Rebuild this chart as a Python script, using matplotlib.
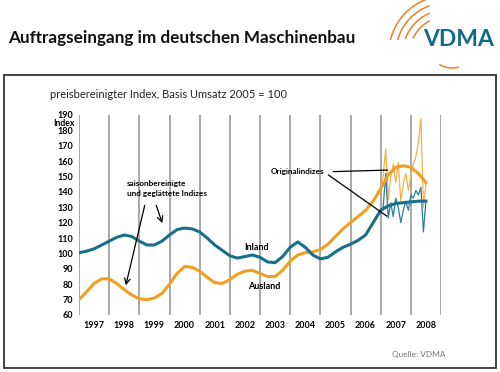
import matplotlib
matplotlib.use('Agg')
import matplotlib.pyplot as plt
from matplotlib.patches import Rectangle
import numpy as np

plt.rcParams['font.family'] = ['Lato', 'DejaVu Sans']

# smoothed (seasonally adjusted) indices, quarterly
smooth_years = [1997.0, 1997.25, 1997.5, 1997.75, 1998.0, 1998.25, 1998.5, 1998.75,
                1999.0, 1999.25, 1999.5, 1999.75, 2000.0, 2000.25, 2000.5, 2000.75,
                2001.0, 2001.25, 2001.5, 2001.75, 2002.0, 2002.25, 2002.5, 2002.75,
                2003.0, 2003.25, 2003.5, 2003.75, 2004.0, 2004.25, 2004.5, 2004.75,
                2005.0, 2005.25, 2005.5, 2005.75, 2006.0, 2006.25, 2006.5, 2006.75,
                2007.0, 2007.25, 2007.5, 2007.75, 2008.0, 2008.25, 2008.5]
inland_smooth = [100.5, 101.5, 103, 105.5, 108, 110.5, 112, 111,
                 108, 105.5, 105.5, 108, 112, 115.5, 116.5, 116,
                 114, 110, 105.5, 102, 98.5, 97, 98, 99,
                 97.5, 94.5, 94, 98, 104, 107.5, 104, 99,
                 96.5, 97.5, 101, 104, 106, 108.5, 112, 120,
                 128, 131, 132.5, 133, 133.5, 134, 134]
ausland_smooth = [70, 75, 80.5, 83.5, 83.5, 80.5, 76.5, 73,
                  70.5, 70, 71, 74, 80, 87, 91.5, 91,
                  88.5, 84.5, 81, 80.5, 83, 86.5, 88.5, 89,
                  87, 85, 85, 89, 95, 99, 100.5, 101,
                  102.5, 106, 111, 116, 120, 124, 128, 134,
                  142, 151, 156, 157, 156, 152, 146]

# original (monthly) indices
orig_years = [2007.0, 2007.083, 2007.167, 2007.25, 2007.333, 2007.417, 2007.5,
              2007.583, 2007.667, 2007.75, 2007.833, 2007.917, 2008.0, 2008.083,
              2008.167, 2008.25, 2008.333, 2008.417, 2008.5]
inland_orig = [126, 130, 152, 123, 133, 124, 136, 130, 120, 128, 134, 128,
               138, 136, 141, 138, 143, 114, 134]
ausland_orig = [140, 150, 168, 135, 150, 158, 146, 159, 134, 145, 152, 141,
                150, 158, 163, 172, 188, 130, 145]

year_labels = ['1997', '1998', '1999', '2000', '2001', '2002',
               '2003', '2004', '2005', '2006', '2007', '2008']
y_ticks = [60, 70, 80, 90, 100, 110, 120, 130, 140, 150, 160, 170, 180, 190]

TEAL = '#16708a'
ORANGE = '#f0a020'
W, H = 500, 372


def px(x, y):
    '''pixel position (from top left) to figure fraction'''
    return x / W, 1 - y / H


fig = plt.figure(figsize=(5, 3.72), dpi=100)

# frame around the chart
fig.patches.append(Rectangle(px(4, 368), 492 / W, 293 / H, transform=fig.transFigure,
                             fill=False, edgecolor='#333333', linewidth=1.3))

fig.text(*px(8, 38), 'Auftragseingang im deutschen Maschinenbau', fontsize=12.3,
         fontweight='bold', va='center', ha='left', color='#111111')
fig.text(*px(50, 94), 'preisbereinigter Index, Basis Umsatz 2005 = 100', fontsize=8,
         va='center', ha='left', color='#222222')
fig.text(*px(445, 355), 'Quelle: VDMA', fontsize=6, va='center', ha='right',
         color='#777777')

# logo: orange arcs and the lettering
lax = fig.add_axes([380 / W, 1 - 70 / H, 120 / W, 70 / H])
lax.set_xlim(380, 500)
lax.set_ylim(70, 0)
lax.axis('off')
for r, t0, t1 in [(36, 118, 155), (43, 113, 160), (50, 110, 164), (57, 108, 166)]:
    t = np.radians(np.linspace(t0, t1, 40))
    lax.plot(446 + r * np.cos(t), 53 - r * np.sin(t), color='#e8822a', lw=1.1)
for r, t0, t1 in [(24, 240, 285), (30, 242, 280)]:
    t = np.radians(np.linspace(t0, t1, 20))
    lax.plot(452 + r * np.cos(t), 44 - r * np.sin(t), color='#e8822a', lw=1.1)
lax.text(459, 40, 'VDMA', fontsize=16.5, fontweight='bold', color='#136a86',
         ha='center', va='center')

ax = fig.add_axes([79 / W, 57 / H, 362 / W, 200 / H])
ax.set_xlim(1997, 2009)
ax.set_ylim(60, 190)
for s in ax.spines.values():
    s.set_visible(False)
for yr in range(1997, 2010):
    ax.axvline(yr, color='#9a9a9a', linewidth=1.2, zorder=1)

ax.plot(orig_years, ausland_orig, color='#f5b04a', linewidth=0.9, zorder=2)
ax.plot(orig_years, inland_orig, color='#2a7f9c', linewidth=0.9, zorder=2)
ax.plot(smooth_years, ausland_smooth, color=ORANGE, linewidth=2.2, zorder=3)
ax.plot(smooth_years, inland_smooth, color=TEAL, linewidth=2.2, zorder=3)

ax.set_yticks(y_ticks)
ax.set_yticklabels([str(v) for v in y_ticks], fontsize=6.5, fontweight='bold')
ax.set_xticks([int(y) + 0.5 for y in year_labels])
ax.set_xticklabels(year_labels, fontsize=6.5, fontweight='bold')
ax.tick_params(length=0, pad=4)
ax.text(-0.012, 0.96, 'Index', transform=ax.transAxes, fontsize=6.2,
        fontweight='bold', ha='right', va='center')

# annotations
ax.text(1998.6, 142.2, 'saisonbereinigte\nund geglättete Indizes', fontsize=5.9,
        fontweight='bold', ha='left', va='center', linespacing=1.35)
ax.annotate('', xy=(1998.53, 77.5), xytext=(1999.2, 133),
            arrowprops=dict(arrowstyle='->', color='black', lw=0.9))
ax.annotate('', xy=(1999.79, 118), xytext=(1999.53, 133),
            arrowprops=dict(arrowstyle='->', color='black', lw=0.9))
ax.text(2004.25, 153.2, 'Originalindizes', fontsize=5.9, fontweight='bold',
        ha='center', va='center')
ax.plot([2005.43, 2007.23], [153.2, 154.2], color='black', linewidth=0.9, zorder=4)
ax.plot([2005.27, 2007.2], [151, 124.3], color='black', linewidth=0.9, zorder=4)
ax.text(2002.9, 104.2, 'Inland', fontsize=6.5, fontweight='bold', ha='center',
        va='center')
ax.text(2003.13, 78.4, 'Ausland', fontsize=6.5, fontweight='bold', ha='center',
        va='center')

fig.savefig('out.png', dpi=100)
